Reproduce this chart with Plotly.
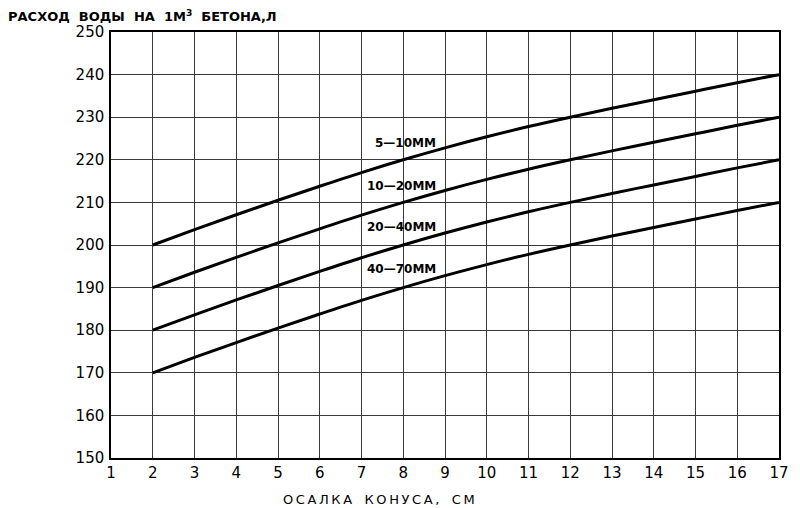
import plotly.graph_objects as go

x_vals = [2, 3, 4, 5, 6, 7, 8, 9, 10, 11, 12, 13, 14, 15, 16, 17]
s_5_10 = [200, 203.6, 207.1, 210.5, 213.8, 217, 220, 222.8, 225.4, 227.8, 230, 232.1, 234.1, 236.1, 238.1, 240]
s_10_20 = [190, 193.6, 197.1, 200.5, 203.8, 207, 210, 212.8, 215.4, 217.8, 220, 222.1, 224.1, 226.1, 228.1, 230]
s_20_40 = [180, 183.6, 187.1, 190.5, 193.8, 197, 200, 202.8, 205.4, 207.8, 210, 212.1, 214.1, 216.1, 218.1, 220]
s_40_70 = [170, 173.6, 177.1, 180.5, 183.8, 187, 190, 192.8, 195.4, 197.8, 200, 202.1, 204.1, 206.1, 208.1, 210]
series_names = ["5—10ММ", "10—20ММ", "20—40ММ", "40—70ММ"]
label_y = [224, 213.8, 204.2, 194.4]
x_ticks = list(range(1, 18))
y_ticks = list(range(150, 251, 10))

fig = go.Figure()
for name, ys in zip(series_names, [s_5_10, s_10_20, s_20_40, s_40_70]):
    fig.add_trace(go.Scatter(x=x_vals, y=ys, mode="lines", name=name,
                             line=dict(color="black", width=3, shape="spline"),
                             showlegend=False))

for name, ly in zip(series_names, label_y):
    fig.add_annotation(x=8.83, y=ly, text=name, showarrow=False, xanchor="right",
                       yanchor="middle",
                       font=dict(family="DejaVu Sans", size=12, color="black", weight="bold"))

fig.add_annotation(xref="paper", yref="paper", x=-0.157, y=1.0, yshift=16,
                   text="РАСХОД  ВОДЫ  НА  1М<sup>3</sup>  БЕТОНА,Л", showarrow=False,
                   xanchor="left", yanchor="middle",
                   font=dict(family="DejaVu Sans", size=13, color="black", weight="bold"))

th = "\u2009"
xtitle = "   ".join(th.join(w) for w in ["ОСАЛКА", "КОНУСА,", "СМ"])
fig.add_annotation(xref="paper", yref="paper", x=0.401, y=0, yshift=-41,
                   text=xtitle, showarrow=False,
                   xanchor="center", yanchor="middle",
                   font=dict(family="DejaVu Sans", size=13, color="black"))

fig.update_xaxes(range=[1, 17], tickvals=x_ticks, ticktext=[str(v) for v in x_ticks],
                 showgrid=True, gridcolor="#3a3a3a", gridwidth=1,
                 showline=True, linecolor="black", linewidth=1.5, mirror=True,
                 ticks="", zeroline=False,
                 tickfont=dict(family="DejaVu Sans", size=15, color="black"))
fig.update_yaxes(range=[150, 250], tickvals=y_ticks, ticktext=[str(v) for v in y_ticks],
                 showgrid=True, gridcolor="#3a3a3a", gridwidth=1,
                 showline=True, linecolor="black", linewidth=1.5, mirror=True,
                 ticks="", zeroline=False, ticklabelstandoff=2,
                 tickfont=dict(family="DejaVu Sans", size=15, color="black"))

fig.update_layout(width=800, height=508, margin=dict(l=111, r=21, t=32, b=50),
                  plot_bgcolor="white", paper_bgcolor="white")

fig.write_html("out.html", config={"displayModeBar": False},
               post_script="document.body.style.margin='0';document.body.style.padding='0';")
